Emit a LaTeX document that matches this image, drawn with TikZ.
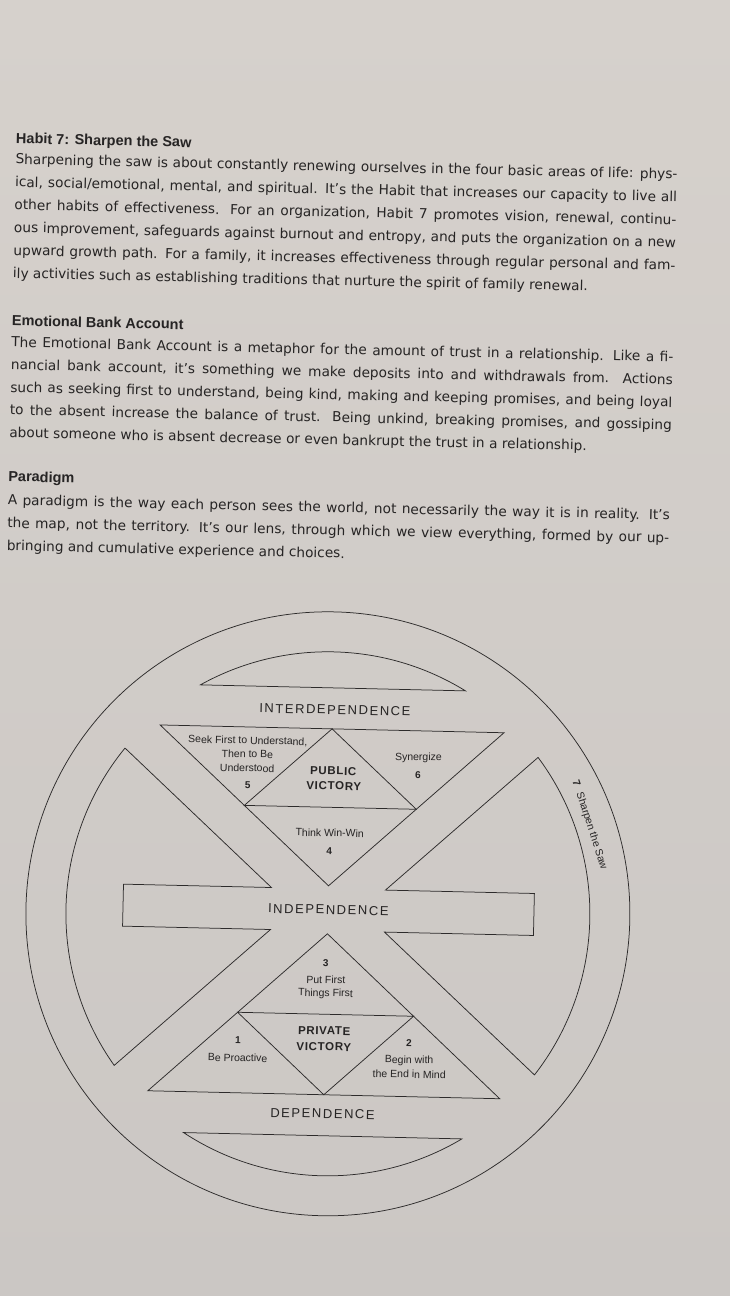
\documentclass[tikz,border=0pt]{standalone}
\usepackage{fontspec}
\usepackage{graphicx}
\setmainfont{DejaVu Sans}
\newfontfamily\headfnt{Liberation Sans}
\newfontfamily\lblfnt{Liberation Sans}
\newfontfamily\bigfnt[LetterSpace=12]{Liberation Sans}
\newfontfamily\vicfnt[LetterSpace=6]{Liberation Sans}
\newcommand\bdyfont{\fontsize{13.7}{16}\selectfont}
\definecolor{bgtop}{RGB}{214,209,204}
\definecolor{bgbot}{RGB}{203,199,196}
\definecolor{ink}{RGB}{38,36,36}
\definecolor{lnc}{RGB}{45,43,43}
\newlength\jlw
\newcommand\jline[1]{%
  \settowidth{\jlw}{#1}%
  \ifdim\jlw>662pt
    \pgfmathsetmacro\jlr{662/\jlw}%
    \scalebox{\jlr}[1]{#1}%
  \else
    \makebox[662pt][s]{#1}%
  \fi}
\begin{document}
\begin{tikzpicture}[x=1pt,y=-1pt,
  ln/.style={draw=lnc, line width=0.75pt, line join=miter},
  body/.style={anchor=base west, inner sep=0pt, text=ink, font=\bdyfont},
  head/.style={anchor=base west, inner sep=0pt, text=ink, font=\headfnt\bfseries\fontsize{14.5}{16}\selectfont},
  big/.style={inner sep=0pt, text=ink, font=\bigfnt\fontsize{13}{15}\selectfont},
  lbl/.style={inner sep=0pt, text=ink, font=\lblfnt\fontsize{10.5}{12}\selectfont},
  num/.style={inner sep=0pt, text=ink, font=\lblfnt\bfseries\fontsize{10}{12}\selectfont},
  vic/.style={inner sep=0pt, text=ink, font=\vicfnt\bfseries\fontsize{11.5}{13}\selectfont}]
\useasboundingbox (0,0) rectangle (730,1296);
\shade[top color=bgtop, bottom color=bgbot] (0,0) rectangle (730,1296);
\begin{scope}[rotate around={-1.3:(340,600)}, transform shape]
  % --- text block 1
  \node[head] (h1) at (5.5,150.8) {Habit 7: Sharpen the Saw};
  \node[body] (a1) at (5.5,171.4) {\jline{Sharpening the saw is about constantly renewing ourselves in the four basic areas of life: phys-}};
  \node[body] (a2) at (5.5,194.2) {\jline{ical, social/emotional, mental, and spiritual. It’s the Habit that increases our capacity to live all}};
  \node[body] (a3) at (5.5,217.0) {\jline{other habits of effectiveness. For an organization, Habit 7 promotes vision, renewal, continu-}};
  \node[body] (a4) at (5.5,239.8) {\jline{ous improvement, safeguards against burnout and entropy, and puts the organization on a new}};
  \node[body] (a5) at (5.5,262.6) {\jline{upward growth path. For a family, it increases effectiveness through regular personal and fam-}};
  \node[body] (a6) at (5.5,285.4) {ily activities such as establishing traditions that nurture the spirit of family renewal.};
  % --- text block 2
  \node[head] (h2) at (5.5,333) {Emotional Bank Account};
  \node[body] (b1) at (5.5,354.4) {\jline{The Emotional Bank Account is a metaphor for the amount of trust in a relationship. Like a fi-}};
  \node[body] (b2) at (5.5,377.0) {\jline{nancial bank account, it’s something we make deposits into and withdrawals from. Actions}};
  \node[body] (b3) at (5.5,399.6) {\jline{such as seeking first to understand, being kind, making and keeping promises, and being loyal}};
  \node[body] (b4) at (5.5,422.2) {\jline{to the absent increase the balance of trust. Being unkind, breaking promises, and gossiping}};
  \node[body] (b5) at (5.5,444.8) {about someone who is absent decrease or even bankrupt the trust in a relationship.};
  % --- text block 3
  \node[head] (h3) at (5.5,489) {Paradigm};
  \node[body] (c1) at (5.5,512.5) {\jline{A paradigm is the way each person sees the world, not necessarily the way it is in reality. It’s}};
  \node[body] (c2) at (5.5,535.3) {\jline{the map, not the territory. It’s our lens, through which we view everything, formed by our up-}};
  \node[body] (c3) at (5.5,558.1) {bringing and cumulative experience and choices.};
  % --- diagram
  \begin{scope}[shift={(335,914)}]
    \draw[ln] (0,0) circle[radius=302];
    % caps
    \draw[ln] (-132.5,-226) -- (132.5,-226) arc[start angle=-59.6, end angle=-120.4, radius=262] -- cycle;
    \draw[ln] (-139.1,222) -- (139.1,222) arc[start angle=57.9, end angle=122.1, radius=262] -- cycle;
    % side wedges with bar ends
    \draw[ln] (-206.6,-161.1) -- (-57,-25) -- (-205,-25) -- (-205,17) -- (-57,17) -- (-210.2,156.4)
      arc[start angle=143.35, end angle=218, radius=262] -- cycle;
    \draw[ln] (206.6,-161.1) -- (57,-25) -- (206,-25) -- (206,17) -- (57,17) -- (210.2,156.4)
      arc[start angle=36.65, end angle=-38, radius=262] -- cycle;
    % top triangle
    \draw[ln] (-172,-185) -- (172,-185) -- (0,-28) -- cycle;
    \draw[ln] (0,-185) -- (-86,-106.5) -- (86,-106.5) -- cycle;
    % bottom triangle
    \draw[ln] (0,20) -- (-176,181) -- (176,181) -- cycle;
    \draw[ln] (-88,100.5) -- (88,100.5) -- (0,181) -- cycle;
    % big labels
    \node[big] (interdep) at (2.4,-204) {INTERDEPENDENCE};
    \node[big] (indep) at (0.4,-4) {INDEPENDENCE};
    \node[big] (dep) at (-0.8,200) {DEPENDENCE};
    % habit 5
    \node[lbl] (s5a) at (-84,-171) {Seek First to Understand,};
    \node[lbl] (s5b) at (-84,-158) {Then to Be};
    \node[lbl] (s5c) at (-84,-144) {Understood};
    \node[num] (n5) at (-83,-127) {5};
    % public victory
    \node[vic] (pv1) at (2.1,-143) {PUBLIC};
    \node[vic] (pv2) at (3,-128) {VICTORY};
    % habit 6
    \node[lbl] (syn) at (87,-158) {Synergize};
    \node[num] (n6) at (87,-141) {6};
    % habit 4
    \node[lbl] (tww) at (0,-81) {Think Win-Win};
    \node[num] (n4) at (0,-63) {4};
    % habit 3
    \node[num] (n3) at (-1,49) {3};
    \node[lbl] (pff1) at (-0.5,66) {Put First};
    \node[lbl] (pff2) at (-0.5,80) {Things First};
    % private victory
    \node[vic] (pr1) at (-1,117) {PRIVATE};
    \node[vic] (pr2) at (-1,133) {VICTORY};
    % habit 1
    \node[num] (n1) at (-87,128) {1};
    \node[lbl] (bp) at (-87,146) {Be Proactive};
    % habit 2
    \node[num] (n2) at (84,127.5) {2};
    \node[lbl] (bw1) at (84.6,145) {Begin with};
    \node[lbl] (bw2) at (85,158.5) {the End in Mind};
    % habit 7 on ring
    \node[lbl, rotate=-70.7] (saw) at (259.5,-95) {\textbf{7}\hspace{7pt}Sharpen the Saw};
  \end{scope}
\end{scope}
\end{tikzpicture}
\end{document}
